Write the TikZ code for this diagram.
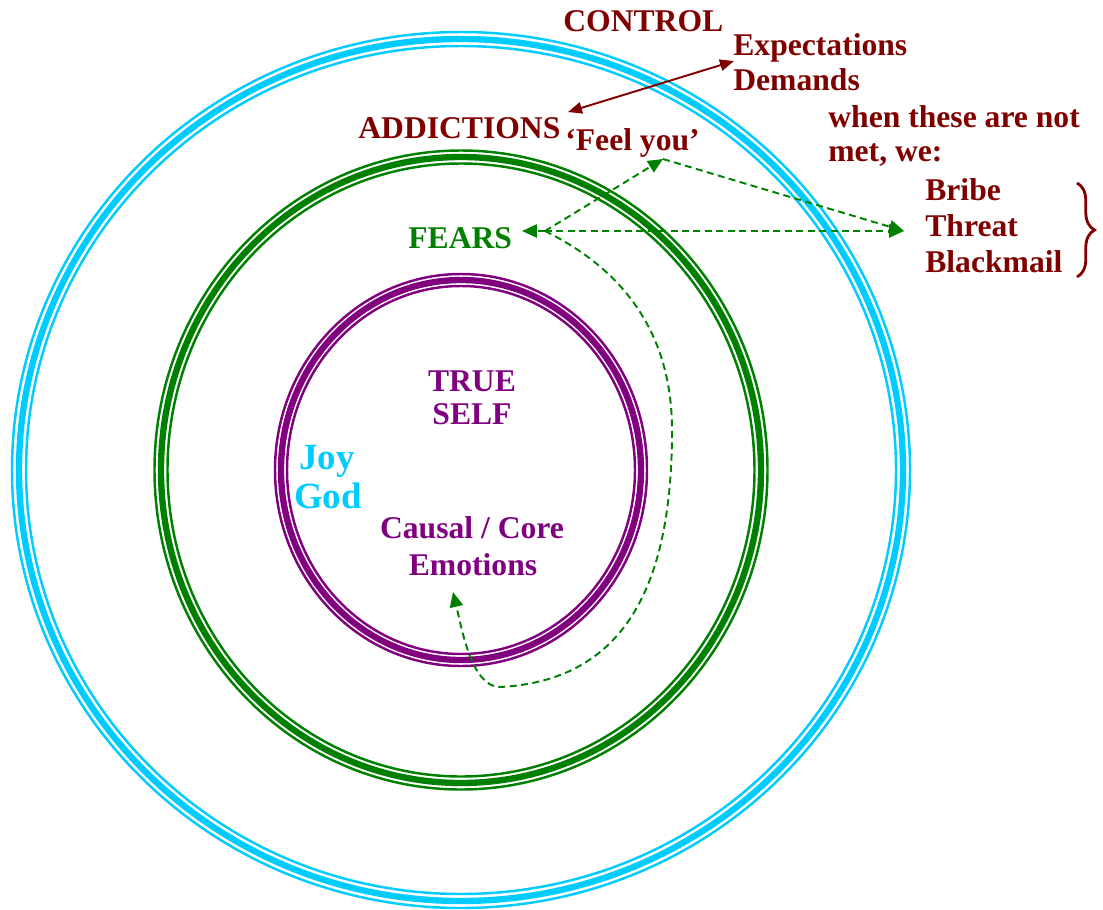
\documentclass[tikz,border=0pt]{standalone}
\usepackage{fontspec}
\setmainfont{Liberation Serif}
\usetikzlibrary{arrows.meta,decorations.pathreplacing}
\definecolor{maroon}{RGB}{128,0,0}
\definecolor{grn}{RGB}{0,128,0}
\definecolor{purp}{RGB}{128,0,128}
\definecolor{sky}{RGB}{0,204,255}
\begin{document}
\begin{tikzpicture}[x=0.02cm,y=-0.02cm,
  lbl/.style={inner sep=0pt,anchor=base west,font=\fontsize{18}{21}\selectfont\bfseries},
  lblc/.style={lbl,anchor=base},
  gdash/.style={grn,line width=1.1pt,dash pattern=on 4pt off 2.5pt,-{Triangle[length=8.5pt,width=7.5pt]}}]
\useasboundingbox (0,0) rectangle (1103,910);
% the three rings
\foreach \c/\rx/\ry/\d in {sky/442/431/7,grn/300/313/6.5,purp/180/190/6}{
  \draw[color=\c,line width=3.6pt] (461,470) ellipse ({\rx} and {\ry});
  \draw[color=\c,line width=1.4pt] (461,470) ellipse ({\rx+\d} and {\ry+\d});
  \draw[color=\c,line width=1.4pt] (461,470) ellipse ({\rx-\d} and {\ry-\d});
}
% labels
\node[lbl,maroon] (control) at (563,31) {CONTROL};
\node[lbl,maroon] (expect) at (733,55) {Expectations};
\node[lbl,maroon] (demand) at (733,90) {Demands};
\node[lbl,maroon] (addict) at (358,138) {ADDICTIONS};
\node[lbl,maroon] (feel) at (565,150) {`Feel you'};
\node[lbl,maroon] (when) at (828,127) {when these are not};
\node[lbl,maroon] (met) at (828,161) {met, we:};
\node[lbl,maroon] (bribe) at (925,200) {Bribe};
\node[lbl,maroon] (threat) at (925,236) {Threat};
\node[lbl,maroon] (black) at (925,272) {Blackmail};
\node[lbl,grn] (fears) at (408,248) {FEARS};
\node[lblc,purp] (true) at (472,391) {TRUE};
\node[lblc,purp] (self) at (472,424) {SELF};
\node[lblc,sky,font=\fontsize{21}{24}\selectfont\bfseries] (joy) at (327,469) {Joy};
\node[lblc,sky,font=\fontsize{21}{24}\selectfont\bfseries] (god) at (328,508) {God};
\node[lblc,purp] (causal) at (472,538) {Causal / Core};
\node[lblc,purp] (emo) at (473,575) {Emotions};
% arrows
\coordinate (addTip) at (568,112);
\coordinate (expTip) at (734,61);
\draw[maroon,line width=1.1pt,{Triangle[length=8pt,width=6.5pt]}-{Triangle[length=8pt,width=6.5pt]}] (addTip) -- (expTip);
\coordinate (jn) at (545,231);
\coordinate (fearTip) at (522,231);
\coordinate (feelTip) at (663,159);
\coordinate (bribeTip) at (904,231);
\coordinate (emoTip) at (453,592);
\draw[gdash] (jn) -- (fearTip);
\draw[gdash] (jn) -- (feelTip);
\draw[gdash] (jn) -- (bribeTip);
\draw[gdash] (feelTip) -- (bribeTip);
\draw[gdash] (jn) .. controls (620,268) and (672,330) .. (672,430)
  .. controls (672,560) and (640,680) .. (500,687)
  .. controls (472,687) and (462,630) .. (emoTip);
% brace
\coordinate (brTop) at (1077,183);
\coordinate (brBot) at (1077,277);
\draw[maroon,line width=1.6pt,decorate,decoration={brace,amplitude=10pt}] (brTop) -- (brBot);
\end{tikzpicture}
\end{document}
